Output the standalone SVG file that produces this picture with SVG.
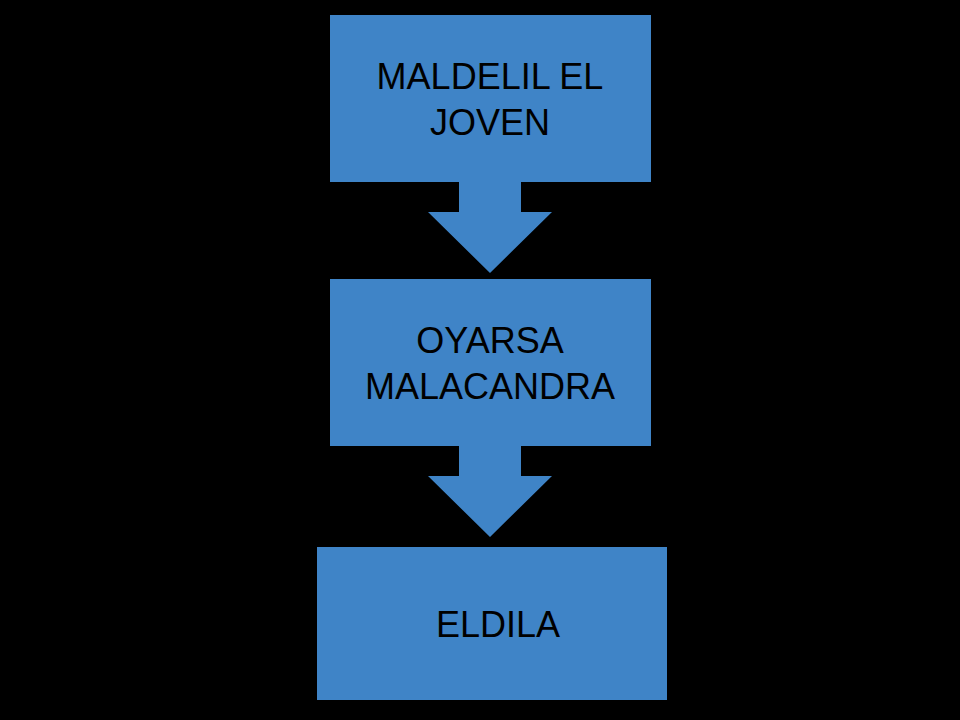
<svg xmlns="http://www.w3.org/2000/svg" width="960" height="720" viewBox="0 0 960 720">
<style>
.box{fill:#3f84c7}
.arrow{fill:#3f84c7}
.t{font-family:"Liberation Sans",Arial,sans-serif;font-size:36px;fill:#000;text-anchor:middle}
</style>
<rect width="960" height="720" fill="#000"/>
<g id="connectors">
<polygon class="arrow" points="459,181 521,181 521,212 552,212 490,273 428,212 459,212"/>
<polygon class="arrow" points="459,445 521,445 521,476 552,476 490,537 428,476 459,476"/>
</g>
<g id="n1"><rect class="box" x="330" y="15" width="321" height="167"/>
<text class="t" x="490" y="89">MALDELIL EL</text><text class="t" x="490" y="135">JOVEN</text></g>
<g id="n2"><rect class="box" x="330" y="279" width="321" height="167"/>
<text class="t" x="490" y="353">OYARSA</text><text class="t" x="490" y="399">MALACANDRA</text></g>
<g id="n3"><rect class="box" x="317" y="547" width="350" height="153"/>
<text class="t" x="498" y="637">ELDILA</text></g>
</svg>
